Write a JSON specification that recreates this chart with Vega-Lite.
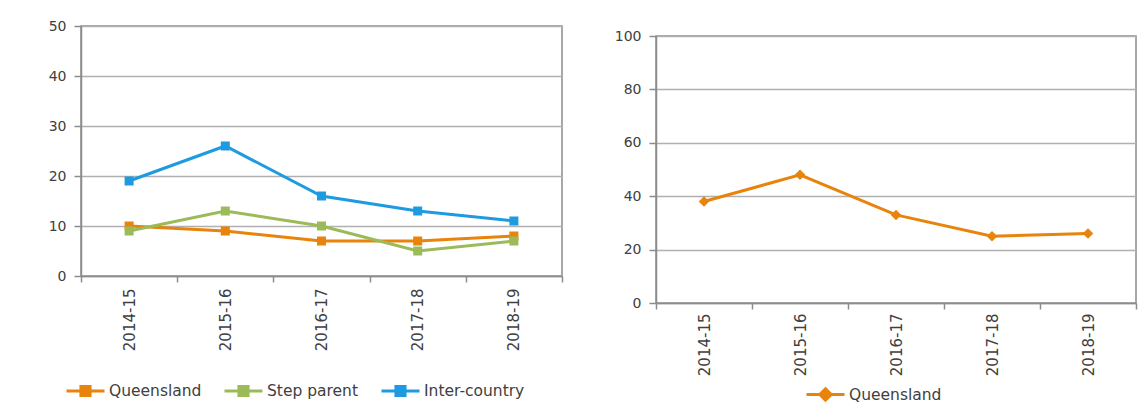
{
  "$schema": "https://vega.github.io/schema/vega-lite/v6.json",
  "autosize": {"type": "pad"},
  "padding": {"left": 47, "top": 18, "right": 0, "bottom": 0},
  "background": "white",
  "config": {
    "font": "DejaVu Sans",
    "view": {"stroke": "#8c8c8c", "strokeWidth": 1.5},
    "axis": {
      "labelFont": "DejaVu Sans",
      "labelColor": "#404040",
      "domainColor": "#8c8c8c",
      "tickColor": "#8c8c8c",
      "gridColor": "#b0b0b0",
      "gridWidth": 1.5,
      "domainWidth": 1.5,
      "tickWidth": 1.5,
      "title": null
    },
    "legend": {
      "labelFont": "DejaVu Sans",
      "labelColor": "#404040",
      "labelFontSize": 15.5,
      "padding": 0
    }
  },
  "spacing": 49,
  "resolve": {"scale": {"color": "independent", "y": "independent", "x": "independent"}, "legend": {"color": "independent"}},
  "hconcat": [
    {
      "width": 481,
      "height": 250,
      "data": {"values": [
        {"year": "2014-15", "series": "Queensland", "value": 10},
        {"year": "2015-16", "series": "Queensland", "value": 9},
        {"year": "2016-17", "series": "Queensland", "value": 7},
        {"year": "2017-18", "series": "Queensland", "value": 7},
        {"year": "2018-19", "series": "Queensland", "value": 8},
        {"year": "2014-15", "series": "Step parent", "value": 9},
        {"year": "2015-16", "series": "Step parent", "value": 13},
        {"year": "2016-17", "series": "Step parent", "value": 10},
        {"year": "2017-18", "series": "Step parent", "value": 5},
        {"year": "2018-19", "series": "Step parent", "value": 7},
        {"year": "2014-15", "series": "Inter-country", "value": 19},
        {"year": "2015-16", "series": "Inter-country", "value": 26},
        {"year": "2016-17", "series": "Inter-country", "value": 16},
        {"year": "2017-18", "series": "Inter-country", "value": 13},
        {"year": "2018-19", "series": "Inter-country", "value": 11}
      ]},
      "encoding": {
        "x": {"field": "year", "type": "ordinal", "scale": {"type": "band", "paddingInner": 0, "paddingOuter": 0},
              "axis": {"labelAngle": 270, "tickBand": "extent", "tickSize": 6, "labelPadding": 6, "labelFontSize": 15, "grid": false}},
        "y": {"field": "value", "type": "quantitative", "scale": {"domain": [0, 50]},
              "axis": {"values": [0, 10, 20, 30, 40, 50], "tickSize": 7, "labelPadding": 8, "labelFontSize": 14, "grid": true}},
        "color": {"field": "series", "type": "nominal",
                  "scale": {"domain": ["Queensland", "Step parent", "Inter-country"], "range": ["#E8830C", "#9BBB59", "#1E9BE0"]},
                  "legend": {"orient": "none", "legendX": -16, "legendY": 344, "direction": "horizontal", "title": null,
                             "symbolType": "M-1,0L1,0M-0.24,-0.24L0.24,-0.24L0.24,0.24L-0.24,0.24Z",
                             "symbolSize": 1444, "symbolStrokeWidth": 3, "labelOffset": 3, "columnPadding": 16}}
      },
      "layer": [
        {"mark": {"type": "line", "strokeWidth": 3}},
        {"mark": {"type": "point", "shape": "square", "filled": true, "size": 81, "opacity": 1}}
      ]
    },
    {
      "spacing": 1,
      "vconcat": [
        {
          "width": 480,
          "height": 1,
          "view": {"stroke": null},
          "data": {"values": []},
          "mark": {"type": "point"},
          "encoding": {}
        },
        {
          "width": 480,
          "height": 267,
          "data": {"values": [
            {"year": "2014-15", "series": "Queensland", "value": 38},
            {"year": "2015-16", "series": "Queensland", "value": 48},
            {"year": "2016-17", "series": "Queensland", "value": 33},
            {"year": "2017-18", "series": "Queensland", "value": 25},
            {"year": "2018-19", "series": "Queensland", "value": 26}
          ]},
          "encoding": {
            "x": {"field": "year", "type": "ordinal", "scale": {"type": "band", "paddingInner": 0, "paddingOuter": 0},
                  "axis": {"labelAngle": 270, "tickBand": "extent", "tickSize": 6, "labelPadding": 4, "labelFontSize": 15, "grid": false}},
            "y": {"field": "value", "type": "quantitative", "scale": {"domain": [0, 100]},
                  "axis": {"values": [0, 20, 40, 60, 80, 100], "tickSize": 7, "labelPadding": 8, "labelFontSize": 14, "grid": true}},
            "color": {"field": "series", "type": "nominal",
                      "scale": {"domain": ["Queensland"], "range": ["#E8830C"]},
                      "legend": {"orient": "none", "legendX": 149, "legendY": 348, "direction": "horizontal", "title": null,
                                 "symbolType": "M-1,0L1,0M0,-0.3L0.3,0L0,0.3L-0.3,0Z",
                                 "symbolSize": 1444, "symbolStrokeWidth": 3, "labelOffset": 3}}
          },
          "layer": [
            {"mark": {"type": "line", "strokeWidth": 3}},
            {"mark": {"type": "point", "shape": "diamond", "filled": true, "size": 110, "opacity": 1}}
          ]
        }
      ]
    }
  ]
}
